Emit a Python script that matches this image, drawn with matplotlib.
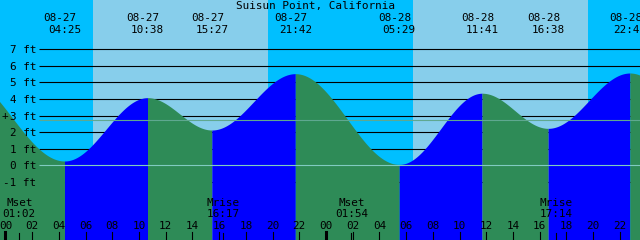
import matplotlib
matplotlib.use("Agg")
import matplotlib.pyplot as plt
import numpy as np

# ---------------- data ----------------
title = "Suisun Point, California"
tide_dates = ["08-27", "08-27", "08-27", "08-27", "08-28", "08-28", "08-28", "08-28"]
tide_times = ["04:25", "10:38", "15:27", "21:42", "05:29", "11:41", "16:38", "22:45"]
tide_heights = [0.26, 4.08, 2.13, 5.53, 0.05, 4.35, 2.23, 5.57]
# extremes just outside the visible window (estimated from the curve ends)
edge_dates = ["08-26", "08-29"]
edge_times = ["20:35", "06:30"]
edge_heights = [5.5, 0.1]

sun_dates = ["08-27", "08-27", "08-28", "08-28"]
sun_times = ["06:33", "19:41", "06:31", "19:37"]      # rise, set, rise, set

moon_labels = ["Mset", "Mrise", "Mset", "Mrise"]
moon_dates = ["08-27", "08-27", "08-28", "08-28"]
moon_times = ["01:02", "16:17", "01:54", "17:14"]

ft_levels = [-1, 0, 1, 2, 3, 4, 5, 6, 7]
hour_labels = ["00", "02", "04", "06", "08", "10", "12", "14", "16", "18", "20", "22"]
mean_level = 2.72

# ---------------- layout (pixels) ----------------
W, H = 640, 240
X0, PXH = 5.5, 13.354      # x pixel of 08-27 00:00, pixels per hour
Y0, PXF = 165.3, 16.57     # y pixel of 0 ft, pixels per foot

NIGHT = "#00BFFF"
DAY = "#87CEEB"
RISE = "#0000FF"
FALL = "#2E8B57"
FONT = dict(family="DejaVu Sans Mono", size=7.9, color="black")

day_off = {"08-26": -24, "08-27": 0, "08-28": 24, "08-29": 48}


def hrs(d, hm):
    h, m = hm.split(":")
    return day_off[d] + int(h) + int(m) / 60.0


fig = plt.figure(figsize=(6.4, 2.4), dpi=100)
fig.patch.set_facecolor(NIGHT)
ax = fig.add_axes([0, 0, 1, 1])
xmin, xmax = -X0 / PXH, (W - X0) / PXH
ax.set_xlim(xmin, xmax)
ax.set_ylim((Y0 - H) / PXF, Y0 / PXF)
ax.axis("off")


def ftext(xpx, ypx, s, ha="center"):
    fig.text(xpx / W, 1 - ypx / H, s, ha=ha, va="baseline", **FONT)


def xpix(h):
    return X0 + PXH * h


# sky: daylight spans
sun_h = [hrs(d, t) for d, t in zip(sun_dates, sun_times)]
for i in range(0, len(sun_h), 2):
    ax.axvspan(sun_h[i], sun_h[i + 1], color=DAY, lw=0, zorder=0)

# grid lines (under the water)
gx0 = (39 - X0) / PXH
ax.hlines(ft_levels, gx0, xmax, color="black", lw=0.8, zorder=1)

# tide curve from the extremes (cosine between successive high/low)
ev_t = [hrs(edge_dates[0], edge_times[0])] + [hrs(d, t) for d, t in zip(tide_dates, tide_times)] + [hrs(edge_dates[1], edge_times[1])]
ev_h = [edge_heights[0]] + tide_heights + [edge_heights[1]]
ybot = (Y0 - H) / PXF
for i in range(len(ev_t) - 1):
    t0, t1, h0, h1 = ev_t[i], ev_t[i + 1], ev_h[i], ev_h[i + 1]
    tt = np.linspace(t0, t1, 200)
    yy = h1 + (h0 - h1) * (1 + np.cos(np.pi * (tt - t0) / (t1 - t0))) / 2
    col = RISE if h1 > h0 else FALL
    ax.fill_between(tt, ybot, yy, color=col, lw=0, zorder=2, antialiased=False)

# datum lines over everything
ax.hlines([mean_level], gx0, xmax, color="#5fa890", lw=0.8, zorder=3)
ax.hlines([0], gx0, xmax, color="#80cbc0", lw=0.8, zorder=3)

# y labels
for v in ft_levels:
    ftext(36, Y0 - PXF * v + 4, f"{v} ft", ha="right")
ftext(4.5, Y0 - PXF * 3 + 3.5, "+")

# title
ftext(315, 9.3, title)

# tide event labels
for d, t in zip(tide_dates, tide_times):
    x = xpix(hrs(d, t))
    ftext(x - 4.3, 20.7, d)
    ftext(x, 33.3, t)

# moon labels and ticks
tick_top = 1 - 232 / H
for lab, d, t in zip(moon_labels, moon_dates, moon_times):
    h = hrs(d, t)
    x = xpix(h)
    ftext(x, 206, lab)
    ftext(x, 217.3, t)
    ax.axvline(h, 0, 1 - 233 / H, color="black", lw=0.8, zorder=4)

# hour labels and ticks
for day in (0, 24):
    for lab in hour_labels:
        h = day + int(lab)
        ftext(xpix(h), 229.3, lab)
        ax.axvline(h, 0, tick_top, color="black",
                   lw=2.2 if lab == "00" else 0.8, zorder=4)

fig.savefig("out.png", dpi=100, facecolor=fig.get_facecolor())
